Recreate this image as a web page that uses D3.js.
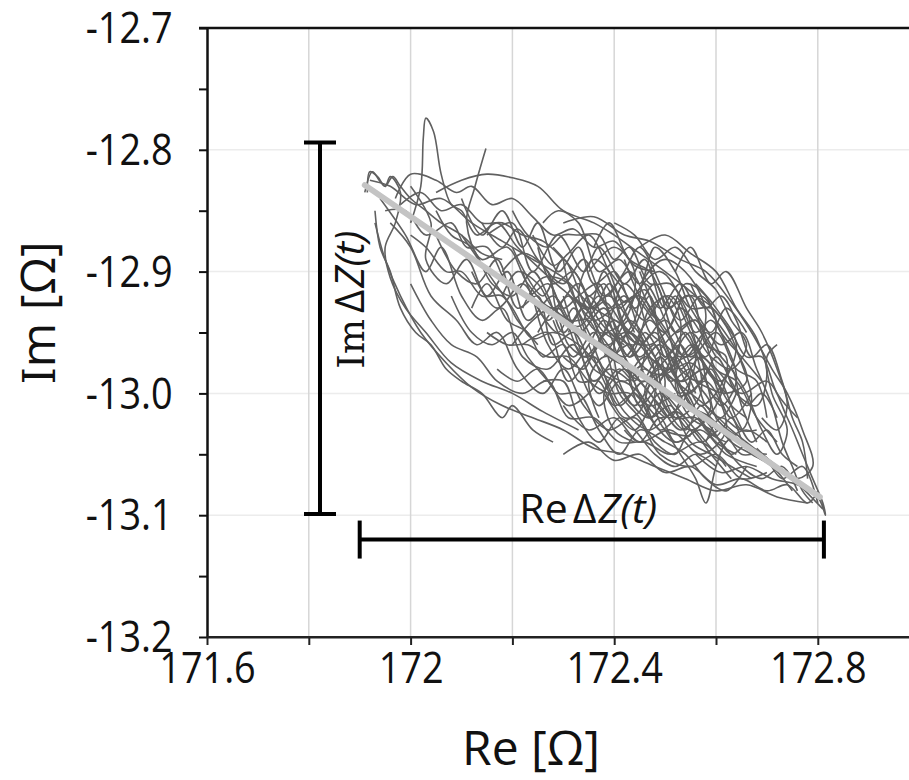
<!DOCTYPE html>
<html>
<head>
<meta charset="utf-8">
<script src="https://cdn.jsdelivr.net/npm/d3@7"></script>
<style>
  body { margin: 0; background: #fff; }
  svg { display: block; }
</style>
</head>
<body>
<div id="chart"></div>
<script>
// axis ranges and ticks
const xDomain = [171.6, 173.0];
const yDomain = [-13.2, -12.7];
const xTicks = [171.6, 171.8, 172.0, 172.2, 172.4, 172.6, 172.8];
const xTickLabels = [171.6, 172.0, 172.4, 172.8];
const yTicks = [-12.7, -12.75, -12.8, -12.85, -12.9, -12.95, -13.0, -13.05, -13.1, -13.15, -13.2];
const yTickLabels = [-12.7, -12.8, -12.9, -13.0, -13.1, -13.2];
const xGrid = [171.8, 172.0, 172.2, 172.4, 172.6, 172.8];
const yGrid = [-12.8, -12.9, -13.0, -13.1];

// linear fit through the cloud
const trend = [[171.91, -12.829], [172.804, -13.085]];

// span markers
const imSpan = { re: 171.822, top: -12.794, bottom: -13.099, labelRe: 171.881, labelIm: -12.923 };
const reSpan = { im: -13.12, left: 171.9, right: 172.812, labelRe: 172.349, labelIm: -13.106 };

// impedance trajectories [Re, Im]
const traces = [
  [[171.92,-12.825],[171.96,-12.83],[172.01,-12.845],[172.06,-12.84],[172.12,-12.86],[172.18,-12.875],[172.24,-12.89],[172.30,-12.905],[172.36,-12.93],[172.42,-12.945],[172.47,-12.97],[172.52,-12.99],[172.58,-13.01],[172.63,-13.03],[172.69,-13.05],[172.75,-13.07],[172.81,-13.095]],
  [[171.915,-12.835],[171.92,-12.818],[171.935,-12.822],[171.95,-12.83],[171.96,-12.822],[171.98,-12.835],[171.97,-12.86],[171.95,-12.88],[171.96,-12.905],[171.99,-12.93],[172.03,-12.95],[172.08,-12.975],[172.14,-12.99],[172.2,-13.0],[172.26,-13.015],[172.33,-13.03]],
  [[172.0,-12.86],[172.02,-12.83],[172.025,-12.79],[172.03,-12.774],[172.045,-12.785],[172.06,-12.82],[172.08,-12.845],[172.1,-12.85],[172.13,-12.87],[172.17,-12.86],[172.21,-12.88],[172.26,-12.9],[172.3,-12.915],[172.35,-12.93],[172.39,-12.92],[172.44,-12.95]],
  [[172.148,-12.799],[172.126,-12.831],[172.11,-12.86],[172.14,-12.89],[172.19,-12.88],[172.23,-12.91],[172.28,-12.93],[172.33,-12.91],[172.37,-12.95],[172.42,-12.97],[172.47,-12.94],[172.52,-12.98]],
  [[172.05,-12.835],[172.1,-12.825],[172.15,-12.82],[172.2,-12.823],[172.25,-12.83],[172.3,-12.85],[172.36,-12.86],[172.4,-12.87],[172.45,-12.885],[172.5,-12.9],[172.56,-12.92],[172.6,-12.94],[172.64,-12.965],[172.66,-12.99],[172.62,-13.0],[172.56,-12.99]],
  [[172.2,-12.88],[172.26,-12.92],[172.3,-12.89],[172.35,-12.93],[172.38,-12.9],[172.43,-12.95],[172.47,-12.92],[172.5,-12.97],[172.54,-12.95],[172.57,-13.0],[172.52,-13.02],[172.46,-12.99],[172.41,-13.01],[172.36,-12.97],[172.31,-12.99],[172.27,-12.95],[172.22,-12.96]],
  [[172.15,-12.87],[172.2,-12.86],[172.24,-12.9],[172.29,-12.87],[172.34,-12.9],[172.37,-12.88],[172.42,-12.91],[172.46,-12.89],[172.5,-12.93],[172.55,-12.92],[172.58,-12.96],[172.62,-12.97],[172.6,-13.01],[172.55,-13.03],[172.49,-13.0],[172.44,-13.03],[172.38,-13.0]],
  [[171.93,-12.86],[171.95,-12.89],[171.98,-12.92],[172.02,-12.95],[172.07,-12.975],[172.12,-12.995],[172.18,-13.01],[172.24,-13.02],[172.3,-13.03],[172.36,-13.045],[172.42,-13.05],[172.48,-13.06],[172.54,-13.07],[172.6,-13.08],[172.66,-13.075],[172.72,-13.085],[172.78,-13.09]],
  [[171.94,-12.84],[171.99,-12.87],[172.03,-12.9],[172.06,-12.88],[172.1,-12.92],[172.14,-12.94],[172.18,-12.93],[172.22,-12.97],[172.27,-12.98],[172.32,-12.96],[172.37,-13.0],[172.42,-12.98],[172.47,-13.02],[172.52,-13.04],[172.57,-13.03],[172.62,-13.05],[172.68,-13.06]],
  [[172.0,-12.83],[172.04,-12.86],[172.03,-12.89],[172.07,-12.91],[172.11,-12.89],[172.15,-12.92],[172.19,-12.9],[172.23,-12.94],[172.28,-12.92],[172.33,-12.95],[172.38,-12.93],[172.43,-12.97],[172.48,-12.95],[172.53,-12.99],[172.58,-12.98],[172.63,-13.02],[172.67,-13.0]],
  [[172.55,-12.96],[172.6,-12.98],[172.65,-13.0],[172.7,-12.99],[172.74,-13.02],[172.77,-13.05],[172.79,-13.07],[172.81,-13.09],[172.815,-13.1],[172.8,-13.085],[172.76,-13.075],[172.71,-13.07],[172.66,-13.06],[172.61,-13.065],[172.56,-13.05]],
  [[172.3,-12.86],[172.36,-12.855],[172.42,-12.87],[172.47,-12.875],[172.53,-12.89],[172.58,-12.9],[172.63,-12.925],[172.67,-12.95],[172.71,-12.98],[172.74,-13.0],[172.77,-13.03],[172.79,-13.06],[172.76,-13.07],[172.72,-13.06],[172.68,-13.045]],
  [[172.5,-13.03],[172.53,-13.05],[172.56,-13.07],[172.58,-13.09],[172.6,-13.06],[172.62,-13.04],[172.66,-13.03],[172.7,-13.04]],
  [[172.1,-12.84],[172.14,-12.87],[172.18,-12.85],[172.22,-12.88],[172.25,-12.86],[172.29,-12.9],[172.33,-12.88],[172.36,-12.91],[172.4,-12.9],[172.44,-12.93],[172.48,-12.91],[172.52,-12.95],[172.56,-12.94],[172.6,-12.98],[172.64,-12.99],[172.68,-13.02],[172.72,-13.04]],
  [[171.96,-12.86],[172.0,-12.88],[172.04,-12.92],[172.09,-12.94],[172.13,-12.96],[172.17,-12.95],[172.21,-12.98],[172.26,-13.0],[172.3,-12.98],[172.34,-13.01],[172.39,-13.03],[172.44,-13.02],[172.49,-13.05],[172.55,-13.06],[172.6,-13.05],[172.65,-13.07],[172.7,-13.065]],
  [[172.35,-12.9],[172.4,-12.88],[172.44,-12.9],[172.42,-12.94],[172.37,-12.95],[172.33,-12.92],[172.36,-12.89],[172.41,-12.91],[172.46,-12.94],[172.5,-12.92],[172.53,-12.94],[172.51,-12.98],[172.46,-12.97],[172.43,-12.99],[172.47,-13.01],[172.52,-13.0]],
  [[172.25,-12.95],[172.29,-12.93],[172.34,-12.97],[172.39,-12.95],[172.44,-12.98],[172.49,-12.96],[172.54,-13.0],[172.58,-12.99],[172.62,-13.03],[172.57,-13.05],[172.51,-13.03],[172.45,-13.04],[172.4,-13.02],[172.35,-13.03],[172.3,-13.01]],
  [[172.12,-12.9],[172.17,-12.93],[172.22,-12.91],[172.27,-12.94],[172.31,-12.92],[172.36,-12.96],[172.4,-12.94],[172.45,-12.96],[172.5,-12.94],[172.55,-12.97],[172.6,-12.95],[172.64,-12.98],[172.68,-12.99],[172.7,-13.02]],
  [[171.97,-12.84],[172.0,-12.82],[172.05,-12.825],[172.09,-12.835],[172.12,-12.83],[172.16,-12.845],[172.2,-12.84],[172.24,-12.855],[172.28,-12.87],[172.32,-12.865],[172.36,-12.88],[172.4,-12.875],[172.44,-12.895],[172.48,-12.9]],
  [[172.0,-12.91],[172.04,-12.94],[172.08,-12.96],[172.13,-12.97],[172.17,-12.99],[172.22,-13.0],[172.27,-12.99],[172.31,-13.02],[172.36,-13.02],[172.41,-13.04],[172.46,-13.04],[172.51,-13.05],[172.57,-13.04],[172.62,-13.06]],
  [[171.95,-12.85],[171.99,-12.85],[172.03,-12.87],[172.08,-12.86],[172.11,-12.88],[172.15,-12.88],[172.19,-12.91],[172.23,-12.92],[172.27,-12.91],[172.31,-12.94],[172.35,-12.94],[172.39,-12.97],[172.43,-12.96],[172.47,-12.99],[172.51,-12.98],[172.55,-13.01],[172.59,-13.02],[172.63,-13.04],[172.67,-13.05],[172.71,-13.06],[172.75,-13.08]],
  [[172.38,-12.97],[172.42,-12.95],[172.46,-12.96],[172.5,-12.99],[172.47,-13.02],[172.42,-13.0],[172.4,-12.96],[172.44,-12.92],[172.49,-12.9],[172.54,-12.93],[172.57,-12.97],[172.61,-12.99],[172.64,-12.96],[172.6,-12.93],[172.56,-12.91]],
  [[172.2,-12.85],[172.23,-12.87],[172.27,-12.88],[172.3,-12.87],[172.33,-12.87],[172.37,-12.87],[172.4,-12.89],[172.43,-12.88],[172.47,-12.91],[172.51,-12.91],[172.55,-12.93],[172.59,-12.93],[172.63,-12.95],[172.66,-12.97],[172.69,-12.97],[172.72,-13.0],[172.76,-13.02]],
  [[172.3,-13.05],[172.35,-13.04],[172.4,-13.055],[172.45,-13.05],[172.5,-13.065],[172.55,-13.06],[172.6,-13.075],[172.65,-13.07],[172.7,-13.08],[172.74,-13.075],[172.78,-13.09],[172.8,-13.08]],
  [[171.93,-12.85],[171.94,-12.88],[171.96,-12.9],[171.98,-12.93],[172.01,-12.95],[172.04,-12.96],[172.07,-12.98],[172.1,-12.99],[172.14,-13.0],[172.18,-13.02],[172.2,-13.01],[172.24,-13.03],[172.28,-13.04]],
  [[172.25,-12.88],[172.28,-12.91],[172.32,-12.9],[172.35,-12.92],[172.38,-12.91],[172.41,-12.93],[172.44,-12.92],[172.47,-12.95],[172.5,-12.96],[172.53,-12.97],[172.56,-12.96],[172.59,-13.0],[172.62,-13.01],[172.65,-13.03],[172.68,-13.03]],
  [[172.4,-12.86],[172.44,-12.87],[172.48,-12.89],[172.52,-12.88],[172.56,-12.9],[172.6,-12.915],[172.63,-12.94],[172.66,-12.96],[172.63,-12.98],[172.59,-12.97],[172.55,-12.95],[172.52,-12.97],[172.54,-13.01],[172.58,-13.02]],
  [[172.05,-12.87],[172.09,-12.9],[172.13,-12.91],[172.17,-12.89],[172.21,-12.93],[172.25,-12.92],[172.28,-12.96],[172.32,-12.95],[172.36,-12.98],[172.4,-12.99],[172.44,-13.01],[172.48,-12.99],[172.52,-13.02],[172.56,-13.02],[172.6,-13.04],[172.64,-13.05]],
  [[172.33,-12.98],[172.37,-13.01],[172.41,-12.99],[172.45,-13.0],[172.49,-13.03],[172.53,-13.02],[172.57,-13.04],[172.61,-13.03],[172.65,-13.05],[172.69,-13.05],[172.73,-13.07],[172.77,-13.06],[172.8,-13.09]],
  [[171.91,-12.835],[171.925,-12.818],[171.94,-12.826],[171.95,-12.83],[171.965,-12.822],[171.98,-12.83],[172.0,-12.84],[172.03,-12.85],[172.06,-12.86],[172.1,-12.87],[172.14,-12.885],[172.18,-12.89]],
  [[172.45,-12.9],[172.49,-12.93],[172.53,-12.91],[172.57,-12.94],[172.61,-12.96],[172.65,-12.95],[172.68,-12.98],[172.71,-13.01],[172.73,-13.04],[172.75,-13.06],[172.77,-13.08],[172.79,-13.09]],
  [[172.15,-12.95],[172.19,-12.96],[172.23,-12.96],[172.27,-12.97],[172.31,-12.97],[172.35,-12.99],[172.39,-13.0],[172.43,-13.0],[172.47,-13.02],[172.51,-13.01],[172.55,-13.04],[172.59,-13.05],[172.63,-13.06],[172.67,-13.07]],
  [[172.18,-12.9],[172.22,-12.885],[172.27,-12.9],[172.29,-12.935],[172.33,-12.945],[172.38,-12.925],[172.41,-12.94],[172.45,-12.975],[172.49,-12.985],[172.55,-12.975],[172.58,-12.99],[172.6,-13.02],[172.64,-13.035]],
  [[172.22,-12.93],[172.26,-12.905],[172.31,-12.91],[172.34,-12.95],[172.39,-12.96],[172.43,-12.94],[172.48,-12.97],[172.5,-13.0],[172.55,-13.0],[172.59,-12.98],[172.61,-13.0]],
  [[172.28,-12.88],[172.33,-12.905],[172.37,-12.94],[172.41,-12.955],[172.44,-12.94],[172.46,-12.905],[172.5,-12.89],[172.55,-12.905],[172.58,-12.935],[172.56,-12.965],[172.52,-12.975],[172.48,-13.0],[172.5,-13.03],[172.55,-13.035]],
  [[172.1,-12.87],[172.15,-12.9],[172.2,-12.93],[172.24,-12.955],[172.28,-12.95],[172.33,-12.96],[172.38,-12.985],[172.42,-13.015],[172.47,-13.03],[172.52,-13.015],[172.56,-13.03],[172.6,-13.05]],
  [[172.32,-12.92],[172.36,-12.94],[172.4,-12.93],[172.45,-12.92],[172.48,-12.935],[172.52,-12.96],[172.55,-12.985],[172.53,-13.01],[172.49,-13.02],[172.45,-13.0],[172.42,-12.975],[172.38,-12.97],[172.35,-12.99],[172.37,-13.02]],
  [[172.4,-12.92],[172.43,-12.955],[172.47,-12.96],[172.51,-12.945],[172.54,-12.92],[172.58,-12.925],[172.62,-12.945],[172.65,-12.975],[172.67,-13.005],[172.65,-13.03],[172.61,-13.02],[172.58,-13.04]],
  [[172.24,-12.87],[172.28,-12.895],[172.31,-12.885],[172.35,-12.87],[172.39,-12.9],[172.42,-12.925],[172.46,-12.915],[172.49,-12.95],[172.53,-12.98],[172.56,-12.97],[172.6,-12.99],[172.63,-13.01],[172.66,-13.02]],
  [[172.35,-12.96],[172.38,-12.99],[172.42,-13.02],[172.45,-13.015],[172.48,-12.985],[172.52,-12.99],[172.56,-13.015],[172.6,-13.035],[172.63,-13.02],[172.66,-13.045],[172.7,-13.05]],
  [[172.2,-12.96],[172.24,-12.94],[172.28,-12.93],[172.31,-12.96],[172.35,-12.97],[172.39,-12.94],[172.42,-12.91],[172.46,-12.93],[172.5,-12.95],[172.53,-12.93],[172.57,-12.95],[172.6,-12.97]],
  [[172.45,-12.88],[172.5,-12.87],[172.55,-12.885],[172.6,-12.9],[172.64,-12.93],[172.68,-12.955],[172.7,-12.985],[172.68,-13.01],[172.64,-13.0],[172.62,-12.98]],
  [[172.14,-12.86],[172.18,-12.88],[172.21,-12.865],[172.25,-12.89],[172.3,-12.91],[172.34,-12.89],[172.38,-12.92],[172.43,-12.9],[172.47,-12.93],[172.5,-12.95],[172.54,-12.97],[172.58,-12.95],[172.61,-12.97]],
  [[172.3,-12.97],[172.34,-12.98],[172.37,-12.96],[172.41,-12.97],[172.45,-12.99],[172.49,-13.01],[172.53,-13.03],[172.57,-13.02],[172.61,-13.04],[172.65,-13.06],[172.69,-13.07],[172.73,-13.06],[172.76,-13.08]],
  [[172.05,-12.85],[172.08,-12.87],[172.12,-12.88],[172.16,-12.91],[172.2,-12.92],[172.24,-12.9],[172.27,-12.92],[172.3,-12.95],[172.34,-12.93],[172.38,-12.95],[172.42,-12.96]],
  [[172.48,-12.97],[172.52,-12.95],[172.56,-12.94],[172.59,-12.96],[172.63,-12.98],[172.66,-13.0],[172.69,-13.03],[172.72,-13.05],[172.74,-13.03],[172.71,-13.0],[172.7,-12.97],[172.72,-12.96]],
  [[172.17,-12.98],[172.21,-12.99],[172.25,-12.98],[172.29,-13.0],[172.33,-13.0],[172.37,-13.03],[172.41,-13.05],[172.45,-13.03],[172.5,-13.04],[172.54,-13.05],[172.58,-13.07],[172.62,-13.08],[172.66,-13.06]],
  [[172.26,-12.86],[172.29,-12.85],[172.33,-12.86],[172.37,-12.9],[172.41,-12.89],[172.45,-12.91],[172.48,-12.88],[172.52,-12.9],[172.55,-12.93],[172.59,-12.95],[172.62,-12.93],[172.66,-12.95]],
  [[172.36,-12.91],[172.39,-12.93],[172.42,-12.92],[172.45,-12.95],[172.48,-12.98],[172.51,-12.97],[172.54,-12.99],[172.57,-13.01],[172.6,-13.0],[172.63,-12.98],[172.65,-13.01],[172.68,-13.04]],
  [[172.12,-12.93],[172.15,-12.91],[172.19,-12.94],[172.23,-12.95],[172.26,-12.97],[172.3,-12.96],[172.33,-12.99],[172.37,-12.99],[172.4,-13.01],[172.44,-13.0],[172.47,-13.02]],
  [[172.4,-12.95],[172.43,-12.97],[172.46,-12.95],[172.5,-12.97],[172.53,-12.96],[172.56,-12.99],[172.59,-13.01],[172.56,-13.03],[172.52,-13.04],[172.49,-13.02],[172.45,-13.04],[172.42,-13.03]],
  [[172.55,-12.91],[172.58,-12.93],[172.61,-12.92],[172.64,-12.94],[172.67,-12.97],[172.7,-12.96],[172.73,-12.99],[172.75,-13.02],[172.77,-13.04],[172.78,-13.07]],
  [[172.3,-12.89],[172.32,-12.92],[172.36,-12.93],[172.39,-12.91],[172.43,-12.94],[172.46,-12.96],[172.44,-12.99],[172.41,-12.98],[172.38,-13.0],[172.4,-13.03],[172.44,-13.04]],
  [[172.08,-12.92],[172.12,-12.95],[172.16,-12.96],[172.2,-12.95],[172.23,-12.97],[172.27,-12.99],[172.31,-13.01],[172.35,-13.0],[172.39,-12.98],[172.43,-12.99]],
  [[172.5,-12.92],[172.53,-12.94],[172.57,-12.92],[172.6,-12.94],[172.58,-12.97],[172.55,-12.96],[172.52,-12.99],[172.55,-13.02],[172.59,-13.03],[172.63,-13.05],[172.66,-13.04]],
  [[172.22,-12.9],[172.25,-12.93],[172.29,-12.95],[172.32,-12.93],[172.35,-12.95],[172.38,-12.98],[172.42,-12.99],[172.46,-12.98],[172.5,-13.0],[172.54,-13.02]],
  [[171.98,-12.845],[172.02,-12.835],[172.06,-12.85],[172.1,-12.845],[172.14,-12.86],[172.18,-12.86],[172.22,-12.87],[172.26,-12.875],[172.3,-12.89]],
  [[172.0,-12.87],[172.03,-12.88],[172.07,-12.9],[172.1,-12.9],[172.14,-12.92],[172.18,-12.92],[172.21,-12.94],[172.25,-12.96]],
  [[172.27,-12.9],[172.3,-12.93],[172.33,-12.92],[172.37,-12.91],[172.4,-12.95],[172.44,-12.96],[172.47,-12.93],[172.51,-12.92],[172.55,-12.95],[172.58,-12.98],[172.62,-13.0]],
  [[172.34,-12.94],[172.37,-12.92],[172.41,-12.95],[172.45,-12.97],[172.48,-12.96],[172.51,-12.99],[172.55,-12.98],[172.58,-13.01],[172.61,-13.02],[172.64,-13.0]],
  [[172.28,-12.94],[172.32,-12.97],[172.36,-12.95],[172.39,-12.97],[172.43,-12.98],[172.47,-13.0],[172.51,-13.02],[172.54,-13.0],[172.58,-13.03],[172.62,-13.04]],
  [[172.42,-12.89],[172.45,-12.92],[172.49,-12.94],[172.52,-12.92],[172.56,-12.95],[172.59,-12.94],[172.62,-12.96],[172.64,-12.99],[172.61,-13.01],[172.58,-12.99]],
  [[172.36,-12.88],[172.39,-12.86],[172.43,-12.89],[172.47,-12.9],[172.51,-12.93],[172.54,-12.91],[172.58,-12.92],[172.61,-12.95],[172.65,-12.97],[172.69,-12.99]],
  [[172.24,-12.92],[172.27,-12.96],[172.31,-12.98],[172.35,-12.96],[172.38,-12.94],[172.42,-12.97],[172.45,-13.01],[172.49,-12.99],[172.52,-12.97],[172.56,-13.0]],
  [[172.46,-12.99],[172.49,-12.97],[172.53,-12.99],[172.57,-12.97],[172.61,-12.99],[172.64,-13.02],[172.67,-13.04],[172.7,-13.03],[172.73,-13.05],[172.76,-13.06]],
  [[172.31,-12.95],[172.34,-12.93],[172.38,-12.96],[172.41,-13.0],[172.45,-13.02],[172.48,-13.04],[172.52,-13.05],[172.55,-13.03],[172.59,-13.05],[172.63,-13.07]],
  [[172.39,-12.92],[172.42,-12.9],[172.45,-12.88],[172.49,-12.91],[172.52,-12.94],[172.56,-12.97],[172.53,-13.0],[172.49,-12.98],[172.46,-13.0],[172.5,-13.02]],
  [[172.18,-12.92],[172.21,-12.9],[172.25,-12.91],[172.28,-12.93],[172.32,-12.94],[172.35,-12.92],[172.39,-12.95],[172.42,-12.98],[172.46,-12.99],[172.49,-12.97]],
  [[172.52,-12.9],[172.55,-12.88],[172.59,-12.91],[172.62,-12.9],[172.66,-12.93],[172.69,-12.95],[172.72,-12.98],[172.74,-13.01],[172.72,-13.03],[172.69,-13.02]],
  [[172.26,-12.99],[172.3,-12.99],[172.33,-13.02],[172.37,-13.04],[172.41,-13.02],[172.44,-13.03],[172.48,-13.05],[172.52,-13.06],[172.56,-13.05],[172.6,-13.06]],
  [[172.43,-12.93],[172.46,-12.91],[172.5,-12.94],[172.53,-12.98],[172.57,-12.99],[172.6,-12.97],[172.63,-12.99],[172.66,-13.01],[172.69,-13.0],[172.72,-13.02]],
  [[172.3,-12.92],[172.33,-12.96],[172.36,-12.99],[172.4,-12.97],[172.43,-12.95],[172.47,-12.97],[172.5,-13.01],[172.54,-13.03],[172.57,-13.01],[172.6,-13.03]]
];

const width = 909, height = 780;
const plotLeft = 207, plotTop = 28, plotBottom = 637;

const svg = d3.select('#chart')
  .append('svg')
  .attr('width', width)
  .attr('height', height)
  .style('background-color', 'white');

const x = d3.scaleLinear().domain(xDomain).range([plotLeft, plotLeft + 1.4 * 509]);
const y = d3.scaleLinear().domain(yDomain).range([plotBottom, plotTop]);

// grid
svg.append('g')
  .selectAll('line')
  .data(yGrid)
  .join('line')
  .attr('x1', plotLeft).attr('x2', width)
  .attr('y1', d => y(d)).attr('y2', d => y(d))
  .attr('stroke', '#ececec').attr('stroke-width', 1.5);

svg.append('g')
  .selectAll('line')
  .data(xGrid)
  .join('line')
  .attr('x1', d => x(d)).attr('x2', d => x(d))
  .attr('y1', plotTop).attr('y2', plotBottom)
  .attr('stroke', '#d6d6d6').attr('stroke-width', 1.5);

// trajectories
const line = d3.line()
  .x(d => x(d[0]))
  .y(d => y(d[1]))
  .curve(d3.curveCatmullRom.alpha(0.5));

svg.append('g')
  .selectAll('path')
  .data(traces)
  .join('path')
  .attr('d', line)
  .attr('fill', 'none')
  .attr('stroke', '#606060')
  .attr('stroke-width', 1.6);

// fit line
svg.append('path')
  .attr('d', d3.line().x(d => x(d[0])).y(d => y(d[1]))(trend))
  .attr('stroke', '#c4c4c4')
  .attr('stroke-width', 6)
  .attr('stroke-linecap', 'round');

// axes
const labelFont = '"Open Sans", "Noto Sans", sans-serif';
const fmt = d => String(+d.toFixed(1));

const yAxis = svg.append('g')
  .attr('transform', `translate(${plotLeft},0)`)
  .call(d3.axisLeft(y).tickValues(yTicks).tickSize(8).tickSizeOuter(0)
    .tickFormat(d => yTickLabels.some(v => Math.abs(v - d) < 1e-6) ? d.toFixed(1) : ''));
yAxis.select('.domain').attr('stroke', '#111').attr('stroke-width', 2.5);
yAxis.selectAll('.tick line').attr('stroke', '#111').attr('stroke-width', 2);
yAxis.selectAll('.tick text')
  .attr('x', -39)
  .attr('dy', '0.34em')
  .attr('transform', 'scale(0.88,1)')
  .style('font-family', labelFont)
  .style('font-size', '43px')
  .attr('fill', '#111');

const xAxis = svg.append('g')
  .attr('transform', `translate(0,${plotBottom})`)
  .call(d3.axisBottom(x).tickValues(xTicks).tickSize(8).tickSizeOuter(0)
    .tickFormat(d => xTickLabels.some(v => Math.abs(v - d) < 1e-6) ? fmt(d) : ''));
xAxis.select('.domain').attr('stroke', '#222').attr('stroke-width', 2);
xAxis.selectAll('.tick line').attr('stroke', '#222').attr('stroke-width', 2);
xAxis.selectAll('.tick text')
  .attr('y', 15)
  .attr('transform', 'scale(0.88,1)')
  .style('font-family', labelFont)
  .style('font-size', '43px')
  .attr('fill', '#111');

// extend bottom axis line to right edge
svg.append('line')
  .attr('x1', plotLeft).attr('x2', width)
  .attr('y1', plotBottom).attr('y2', plotBottom)
  .attr('stroke', '#222').attr('stroke-width', 2);

// top border
svg.append('line')
  .attr('x1', plotLeft - 8).attr('x2', width)
  .attr('y1', y(yDomain[1])).attr('y2', y(yDomain[1]))
  .attr('stroke', '#111').attr('stroke-width', 2.5);

// axis titles
svg.append('text')
  .attr('x', 531).attr('y', 765)
  .attr('text-anchor', 'middle')
  .style('font-family', labelFont)
  .style('font-size', '48px')
  .attr('fill', '#111')
  .text('Re [Ω]');

const imTitle = svg.append('text')
  .attr('transform', 'translate(55,313) rotate(-90)')
  .attr('text-anchor', 'middle')
  .style('font-family', labelFont)
  .style('font-size', '48px')
  .attr('fill', '#111');
imTitle.append('tspan').style('font-family', '"DejaVu Serif", serif').style('font-size', '44px').text('I');
imTitle.append('tspan').text('m [Ω]');

// span markers
const capV = 16, capH = 19;
const spans = svg.append('g').attr('stroke', '#000').attr('stroke-width', 4);
spans.append('line')
  .attr('x1', x(imSpan.re)).attr('x2', x(imSpan.re))
  .attr('y1', y(imSpan.top)).attr('y2', y(imSpan.bottom));
[imSpan.top, imSpan.bottom].forEach(v => spans.append('line')
  .attr('x1', x(imSpan.re) - capV).attr('x2', x(imSpan.re) + capV)
  .attr('y1', y(v)).attr('y2', y(v)));
spans.append('line')
  .attr('x1', x(reSpan.left)).attr('x2', x(reSpan.right))
  .attr('y1', y(reSpan.im)).attr('y2', y(reSpan.im));
[reSpan.left, reSpan.right].forEach(v => spans.append('line')
  .attr('x1', x(v)).attr('x2', x(v))
  .attr('y1', y(reSpan.im) - capH).attr('y2', y(reSpan.im) + capH));

const imLabel = svg.append('text')
  .attr('transform', `translate(${x(imSpan.labelRe)},${y(imSpan.labelIm)}) rotate(-90)`)
  .attr('text-anchor', 'middle')
  .attr('dy', '0.35em')
  .style('font-family', labelFont)
  .style('font-size', '40px')
  .attr('fill', '#111');
imLabel.append('tspan').style('font-family', '"DejaVu Serif", serif').style('font-size', '37px').text('Im');
imLabel.append('tspan').attr('dx', 6).text('Δ');
imLabel.append('tspan').attr('dx', 2).style('font-style', 'italic').text('Z(t)');

const reLabel = svg.append('text')
  .attr('x', x(reSpan.labelRe)).attr('y', y(reSpan.labelIm))
  .attr('text-anchor', 'middle')
  .style('font-family', labelFont)
  .style('font-size', '41px')
  .attr('fill', '#111');
reLabel.append('tspan').text('Re');
reLabel.append('tspan').attr('dx', 5).text('Δ');
reLabel.append('tspan').attr('dx', 2).style('font-style', 'italic').text('Z(t)');
</script>
</body>
</html>
